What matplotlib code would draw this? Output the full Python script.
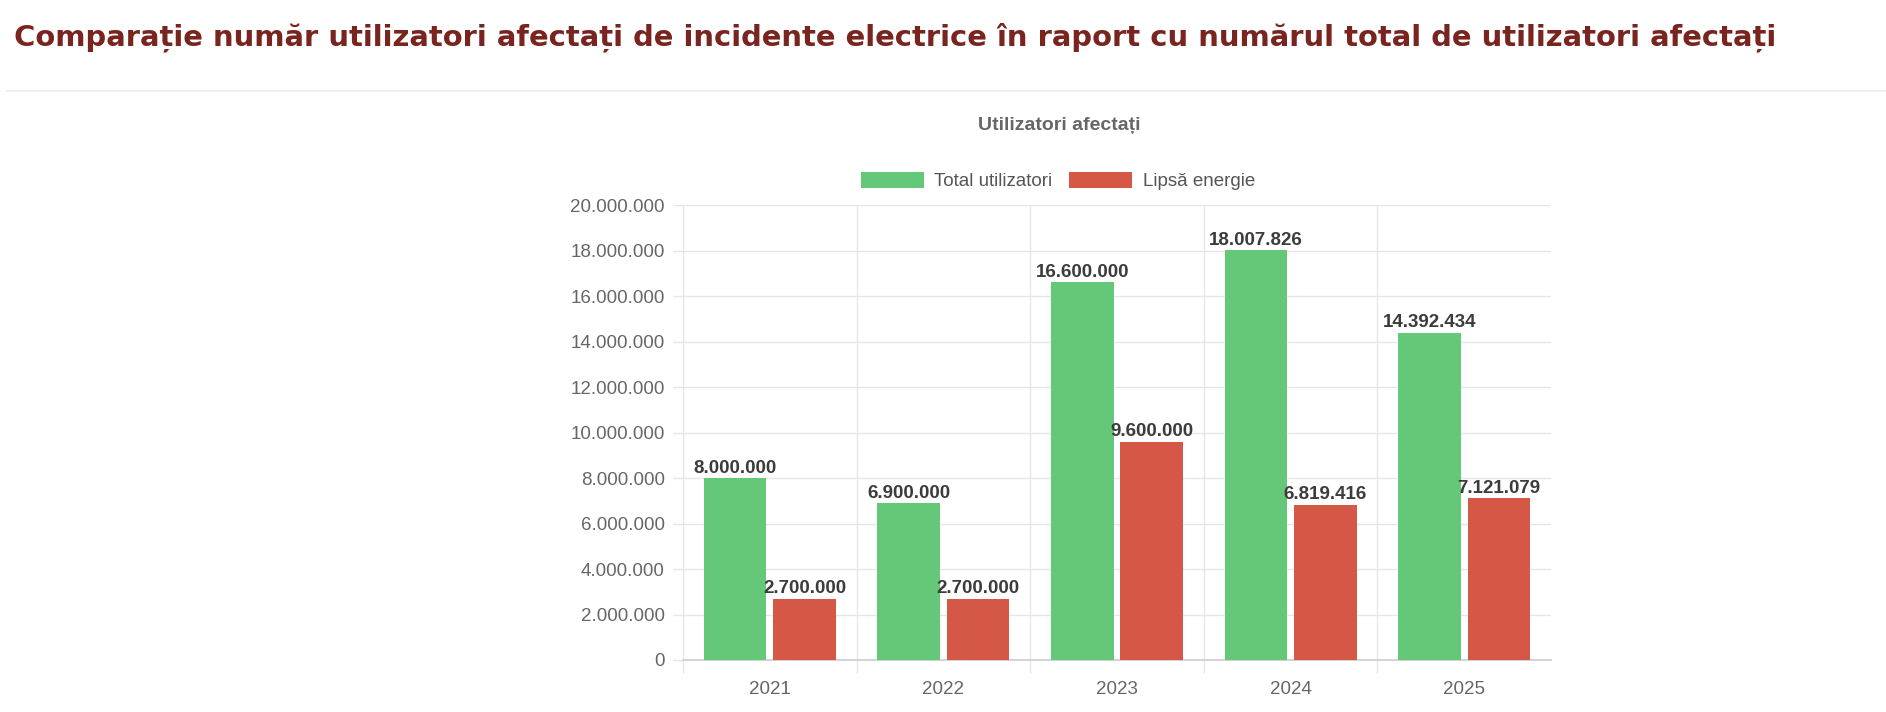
import matplotlib
matplotlib.use("Agg")
import matplotlib.pyplot as plt
from matplotlib.lines import Line2D
from matplotlib.ticker import FuncFormatter, MultipleLocator, FixedLocator
import numpy as np

# Data
years = ["2021", "2022", "2023", "2024", "2025"]
total_users = [8000000, 6900000, 16600000, 18007826, 14392434]
no_power = [2700000, 2700000, 9600000, 6819416, 7121079]
series_names = ["Total utilizatori", "Lipsă energie"]

GREEN = "#64c878"
RED = "#d55746"
GRID = "#e6e6e6"
TICK = "#666666"
LABEL = "#3c3c3c"


def ro_format(v, pos=None):
    # romanian thousands separator is a dot
    return f"{int(round(v)):,}".replace(",", ".")


plt.rcParams["font.family"] = ["Liberation Sans", "DejaVu Sans"]

fig = plt.figure(figsize=(18.86, 7.12), dpi=100)
ax = fig.add_axes([683 / 1886, 1 - 660 / 712, 868 / 1886, 455 / 712])

x = np.arange(len(years))
w = 0.36
b1 = ax.bar(x - 0.2, total_users, w, color=GREEN, label=series_names[0], zorder=3)
b2 = ax.bar(x + 0.2, no_power, w, color=RED, label=series_names[1], zorder=3)

for bars, vals in [(b1, total_users), (b2, no_power)]:
    for rect, v in zip(bars, vals):
        ax.annotate(ro_format(v), (rect.get_x() + rect.get_width() / 2, v),
                    xytext=(0, 1), textcoords="offset points",
                    ha="center", va="bottom", fontsize=13.5,
                    fontweight="bold", color=LABEL, zorder=4)

ax.set_xlim(-0.5, 4.5)
ax.set_ylim(0, 20000000)
ax.yaxis.set_major_locator(MultipleLocator(2000000))
ax.yaxis.set_major_formatter(FuncFormatter(ro_format))
ax.set_xticks(x)
ax.set_xticklabels(years)
ax.xaxis.set_minor_locator(FixedLocator([-0.5, 0.5, 1.5, 2.5, 3.5]))

ax.tick_params(axis="x", which="major", length=0, pad=15, labelsize=13.5, labelcolor=TICK)
ax.tick_params(axis="x", which="minor", length=9, width=1, color=GRID)
ax.tick_params(axis="y", length=7.5, width=1, color=GRID, pad=5.5,
               labelsize=13.5, labelcolor=TICK)

ax.grid(axis="y", which="major", color=GRID, linewidth=1, zorder=0)
ax.grid(axis="x", which="minor", color=GRID, linewidth=1, zorder=0)
for s in ["top", "right"]:
    ax.spines[s].set_visible(False)
ax.spines["left"].set_color(GRID)
ax.spines["bottom"].set_color("#cfcfcf")
ax.spines["bottom"].set_linewidth(1.3)

# chart title and legend
fig.text(1059 / 1886, 1 - 126 / 712, "Utilizatori afectați", ha="center", va="center",
         fontsize=14, fontweight="bold", color=TICK)
fig.legend(handles=[b1, b2], labels=series_names, loc="center",
           bbox_to_anchor=(1058 / 1886, 1 - 181 / 712), ncol=2, frameon=False,
           fontsize=13.5, handlelength=3.36, handleheight=0.96,
           handletextpad=0.55, columnspacing=0.9, labelcolor="#555555")

# page heading and separator
fig.text(14 / 1886, 1 - 37 / 712,
         "Comparație număr utilizatori afectați de incidente electrice în raport cu numărul total de utilizatori afectați",
         ha="left", va="center", fontsize=20.85, fontweight="bold", color="#7a2420",
         family="DejaVu Sans")
fig.add_artist(Line2D([7 / 1886, 1], [1 - 91 / 712] * 2, color="#eeeeee", linewidth=1.5))

fig.savefig("out.png", dpi=100)
